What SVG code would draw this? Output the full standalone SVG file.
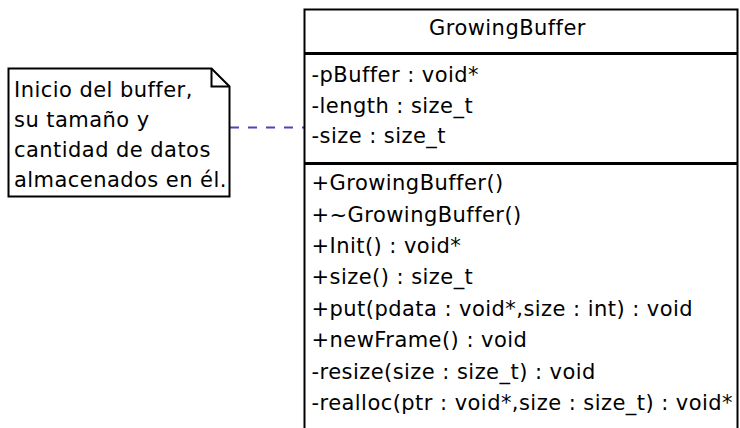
<svg xmlns="http://www.w3.org/2000/svg" width="740" height="428" viewBox="0 0 740 428">
  <style>
    .t { font-family: "DejaVu Sans", "Liberation Sans", sans-serif; font-size: 21px; letter-spacing: 0.45px; fill: #000; }
    .box { fill: #fff; stroke: #000; stroke-width: 2; }
    .sep { stroke: #000; stroke-width: 3; }
    .link { fill: none; stroke: #4848b4; stroke-width: 2; stroke-dasharray: 9 9; }
  </style>
  <rect width="740" height="428" fill="#fff"/>

  <!-- connectors -->
  <g id="connectors">
    <line class="link" x1="230" y1="127.5" x2="304" y2="127.5"/>
  </g>

  <!-- note -->
  <g id="note">
    <path class="box" d="M8.5,68.5 H211.5 L229.5,86.5 V196.5 H8.5 Z"/>
    <path fill="none" stroke="#000" stroke-width="2" d="M211.5,68.5 V86.5 H229.5"/>
    <text class="t" x="14" y="97">Inicio del buffer,</text>
    <text class="t" x="14" y="127">su tamaño y</text>
    <text class="t" x="14" y="157">cantidad de datos</text>
    <text class="t" x="14" y="187">almacenados en él.</text>
  </g>

  <!-- class GrowingBuffer -->
  <g id="GrowingBuffer">
    <rect class="box" x="304.5" y="9.5" width="433" height="430"/>
    <line class="sep" x1="304.5" y1="53.5" x2="737.5" y2="53.5"/>
    <line class="sep" x1="304.5" y1="163.5" x2="737.5" y2="163.5"/>
    <text class="t" x="507.5" y="35" text-anchor="middle">GrowingBuffer</text>
    <text class="t" x="311.5" y="82">-pBuffer : void*</text>
    <text class="t" x="311.5" y="112.5">-length : size_t</text>
    <text class="t" x="311.5" y="143">-size : size_t</text>
    <text class="t" x="311.5" y="190">+GrowingBuffer()</text>
    <text class="t" x="311.5" y="221.5">+~GrowingBuffer()</text>
    <text class="t" x="311.5" y="252.5">+Init() : void*</text>
    <text class="t" x="311.5" y="284">+size() : size_t</text>
    <text class="t" x="311.5" y="315.5">+put(pdata : void*,size : int) : void</text>
    <text class="t" x="311.5" y="347">+newFrame() : void</text>
    <text class="t" x="311.5" y="378.5">-resize(size : size_t) : void</text>
    <text class="t" x="311.5" y="410">-realloc(ptr : void*,size : size_t) : void*</text>
  </g>
</svg>
